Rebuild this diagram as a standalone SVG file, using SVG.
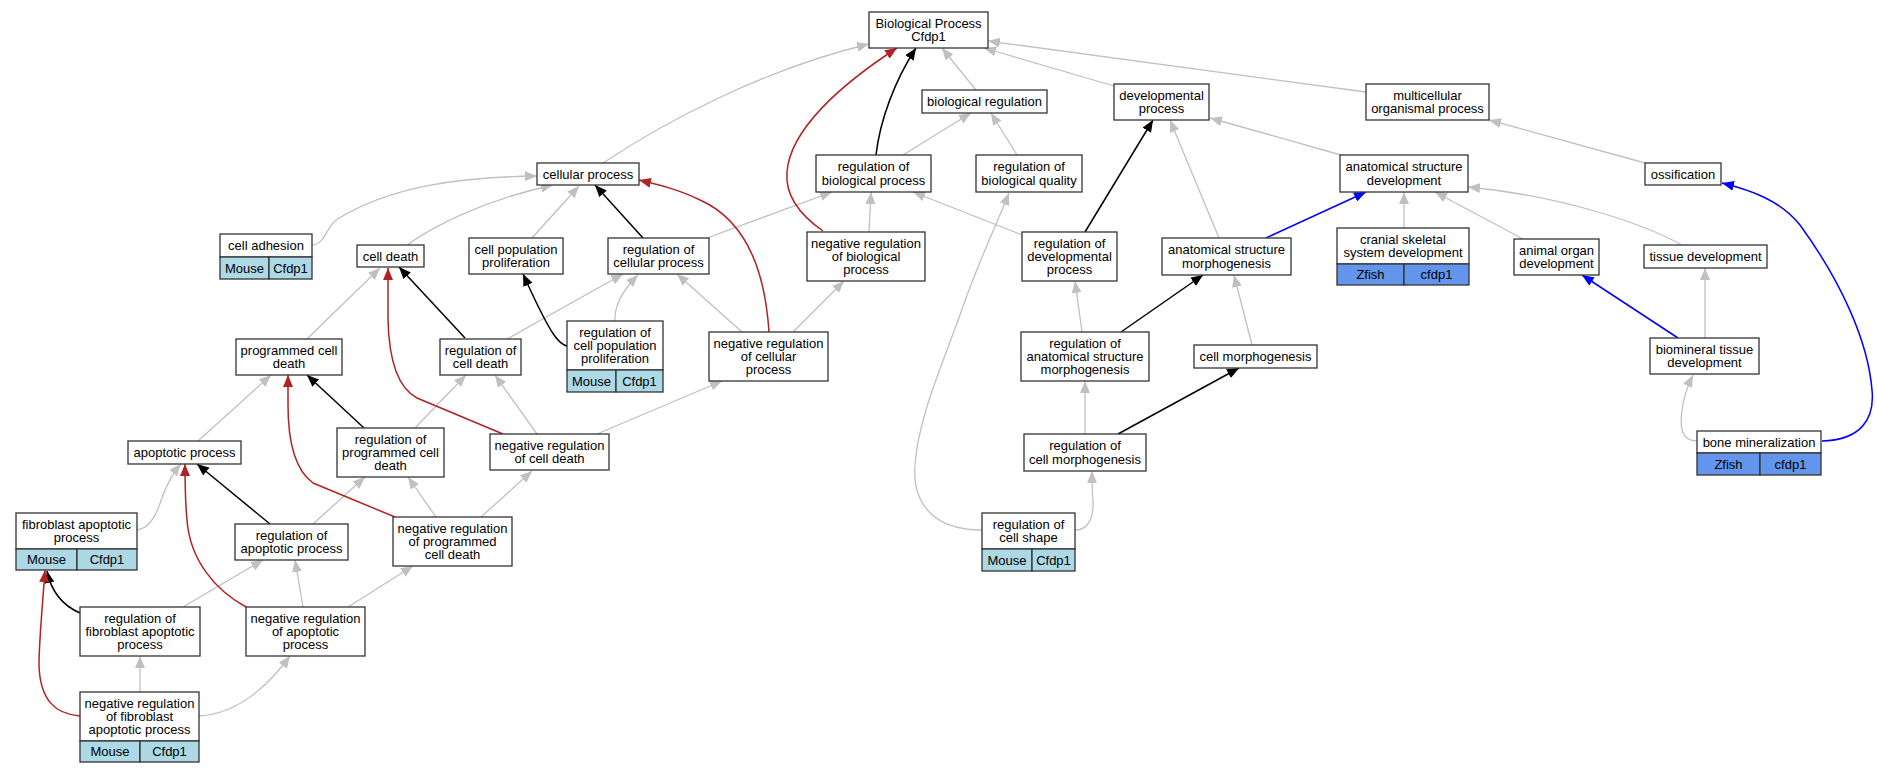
<svg xmlns="http://www.w3.org/2000/svg" width="1877" height="773" viewBox="0 0 1877 773">
<style>
.n rect{fill:#fff;stroke:#333;stroke-width:1.3}
.n rect.mouse{fill:#add8e6}
.n rect.zfish{fill:#6495ed}
text{font-family:"Liberation Sans",Arial,sans-serif;font-size:13px;text-anchor:middle;fill:#000}
#edges path{fill:none}
.g{stroke:#c0c0c0;stroke-width:1.3;marker-end:url(#ag)}
.k{stroke:#000;stroke-width:1.5;marker-end:url(#ak)}
.r{stroke:#b22222;stroke-width:1.5;marker-end:url(#ar)}
.b{stroke:#0000ff;stroke-width:1.5;marker-end:url(#ab)}
</style>
<defs>
<marker id="ag" markerUnits="userSpaceOnUse" viewBox="0 0 12 10" refX="12" refY="5" markerWidth="12" markerHeight="10" orient="auto"><path d="M0,0L12,5L0,10z" fill="#c0c0c0"/></marker>
<marker id="ak" markerUnits="userSpaceOnUse" viewBox="0 0 12 10" refX="12" refY="5" markerWidth="12" markerHeight="10" orient="auto"><path d="M0,0L12,5L0,10z" fill="#000"/></marker>
<marker id="ar" markerUnits="userSpaceOnUse" viewBox="0 0 12 10" refX="12" refY="5" markerWidth="12" markerHeight="10" orient="auto"><path d="M0,0L12,5L0,10z" fill="#b22222"/></marker>
<marker id="ab" markerUnits="userSpaceOnUse" viewBox="0 0 12 10" refX="12" refY="5" markerWidth="12" markerHeight="10" orient="auto"><path d="M0,0L12,5L0,10z" fill="#0000ff"/></marker>
</defs>
<rect width="1877" height="773" fill="#fff"/>
<g id="edges">
<path class="g" d="M603,163 C660,125 760,70 869,44"/>
<path class="g" d="M312,245 C325,244 326,228 336,220 C390,186 460,177 537,176"/>
<path class="g" d="M407,245 C435,225 485,200 553,185"/>
<path class="g" d="M532,238 L579,186"/>
<path class="g" d="M707,238 L832,192"/>
<path class="g" d="M869,232 L871,192"/>
<path class="g" d="M1022,235 L913,192"/>
<path class="g" d="M903,155 L971,113"/>
<path class="g" d="M1017,155 L991,113"/>
<path class="g" d="M976,90 L942,48"/>
<path class="g" d="M1114,86 L984,48"/>
<path class="g" d="M1366,92 L988,41"/>
<path class="g" d="M1341,155 L1210,118"/>
<path class="g" d="M1219,238 L1170,120"/>
<path class="g" d="M1404,228 L1404,192"/>
<path class="g" d="M1523,239 L1435,192"/>
<path class="g" d="M1682,245 C1640,222 1560,196 1468,187"/>
<path class="g" d="M1645,163 L1489,120"/>
<path class="g" d="M1705,338 L1705,268"/>
<path class="g" d="M1697,441 C1680,441 1680,425 1682,410 C1684,395 1688,385 1693,375"/>
<path class="g" d="M982,530 C935,530 912,505 915,465 C918,420 940,370 960,315 C975,270 995,228 1009,193"/>
<path class="g" d="M1075,530 C1090,530 1094,515 1093,500 C1092,490 1092,480 1092,471"/>
<path class="g" d="M1085,434 L1085,381"/>
<path class="g" d="M1082,332 L1075,281"/>
<path class="g" d="M1252,345 L1234,275"/>
<path class="g" d="M307,339 L380,268"/>
<path class="g" d="M198,441 L271,375"/>
<path class="g" d="M415,428 L466,375"/>
<path class="g" d="M537,434 L495,375"/>
<path class="g" d="M597,434 L722,381"/>
<path class="g" d="M507,339 L623,274"/>
<path class="g" d="M615,321 C614,305 625,288 638,275"/>
<path class="g" d="M742,332 L677,274"/>
<path class="g" d="M793,332 L844,281"/>
<path class="g" d="M313,524 L365,477"/>
<path class="g" d="M436,517 L408,477"/>
<path class="g" d="M481,517 L532,471"/>
<path class="g" d="M137,530 C152,528 158,510 163,495 C168,482 174,472 181,464"/>
<path class="g" d="M183,607 L263,560"/>
<path class="g" d="M303,607 L295,560"/>
<path class="g" d="M348,607 L413,566"/>
<path class="g" d="M140,692 L140,656"/>
<path class="g" d="M199,716 C235,714 265,690 290,656"/>
<path class="k" d="M876,155 C880,120 895,80 916,48"/>
<path class="k" d="M1085,232 L1153,120"/>
<path class="k" d="M1121,332 L1203,275"/>
<path class="k" d="M1118,434 L1239,368"/>
<path class="k" d="M643,238 L595,185"/>
<path class="k" d="M465,338 L399,267"/>
<path class="k" d="M567,346 C558,344 550,330 540,310 C533,296 528,285 523,274"/>
<path class="k" d="M364,428 L307,375"/>
<path class="k" d="M270,524 L197,464"/>
<path class="k" d="M80,613 C66,607 52,595 47,571"/>
<path class="r" d="M823,231 C800,215 785,195 787,172 C790,130 840,85 897,48"/>
<path class="r" d="M769,332 C765,270 745,220 700,200 C680,190 660,185 639,180"/>
<path class="r" d="M503,434 L417,398 C398,388 389,360 388,320 C388,300 388,285 388,268"/>
<path class="r" d="M395,517 L313,483 C295,470 288,440 288,405 L288,375"/>
<path class="r" d="M246,607 C215,590 190,560 187,520 C185,500 185,480 185,464"/>
<path class="r" d="M80,716 C55,714 40,700 39,665 C39,640 43,600 45,570"/>
<path class="b" d="M1266,238 L1366,192"/>
<path class="b" d="M1678,338 L1582,275"/>
<path class="b" d="M1822,441 C1860,440 1875,420 1872,390 C1868,340 1840,280 1800,225 C1780,200 1750,190 1722,183"/>
</g>
<g id="n1" class="n"><rect x="869" y="12" width="119" height="36"/><text x="928.5" y="27.8">Biological Process</text><text x="928.5" y="41.2">Cfdp1</text></g>
<g id="n2" class="n"><rect x="922" y="90" width="125" height="23"/><text x="984.5" y="106">biological regulation</text></g>
<g id="n3" class="n"><rect x="1114" y="84" width="95" height="36"/><text x="1161.5" y="99.8">developmental</text><text x="1161.5" y="113.2">process</text></g>
<g id="n4" class="n"><rect x="1366" y="84" width="123" height="36"/><text x="1427.5" y="99.8">multicellular</text><text x="1427.5" y="113.2">organismal process</text></g>
<g id="n5" class="n"><rect x="537" y="163" width="102" height="22"/><text x="588" y="178.5">cellular process</text></g>
<g id="n6" class="n"><rect x="816" y="155" width="115" height="37"/><text x="873.5" y="171.3">regulation of</text><text x="873.5" y="184.7">biological process</text></g>
<g id="n7" class="n"><rect x="976" y="155" width="106" height="37"/><text x="1029" y="171.3">regulation of</text><text x="1029" y="184.7">biological quality</text></g>
<g id="n8" class="n"><rect x="1340" y="155" width="128" height="37"/><text x="1404" y="171.3">anatomical structure</text><text x="1404" y="184.7">development</text></g>
<g id="n9" class="n"><rect x="1645" y="163" width="76" height="22"/><text x="1683" y="178.5">ossification</text></g>
<g id="n10" class="n"><rect x="220" y="234" width="92" height="23"/><rect class="mouse" x="220" y="257" width="49" height="22"/><rect class="mouse" x="269" y="257" width="43" height="22"/><text x="266" y="250">cell adhesion</text><text x="244.5" y="272.5">Mouse</text><text x="290.5" y="272.5">Cfdp1</text></g>
<g id="n11" class="n"><rect x="357" y="245" width="67" height="22"/><text x="390.5" y="260.5">cell death</text></g>
<g id="n12" class="n"><rect x="469" y="238" width="94" height="36"/><text x="516" y="253.8">cell population</text><text x="516" y="267.2">proliferation</text></g>
<g id="n13" class="n"><rect x="608" y="238" width="101" height="36"/><text x="658.5" y="253.8">regulation of</text><text x="658.5" y="267.2">cellular process</text></g>
<g id="n14" class="n"><rect x="807" y="232" width="118" height="49"/><text x="866" y="247.7">negative regulation</text><text x="866" y="261">of biological</text><text x="866" y="274.3">process</text></g>
<g id="n15" class="n"><rect x="1022" y="232" width="95" height="49"/><text x="1069.5" y="247.7">regulation of</text><text x="1069.5" y="261">developmental</text><text x="1069.5" y="274.3">process</text></g>
<g id="n16" class="n"><rect x="1162" y="238" width="129" height="37"/><text x="1226.5" y="254.3">anatomical structure</text><text x="1226.5" y="267.7">morphogenesis</text></g>
<g id="n17" class="n"><rect x="1337" y="228" width="132" height="36"/><rect class="zfish" x="1337" y="264" width="67" height="21"/><rect class="zfish" x="1404" y="264" width="65" height="21"/><text x="1403" y="243.8">cranial skeletal</text><text x="1403" y="257.2">system development</text><text x="1370.5" y="279">Zfish</text><text x="1436.5" y="279">cfdp1</text></g>
<g id="n18" class="n"><rect x="1514" y="239" width="85" height="36"/><text x="1556.5" y="254.8">animal organ</text><text x="1556.5" y="268.2">development</text></g>
<g id="n19" class="n"><rect x="1644" y="245" width="123" height="23"/><text x="1705.5" y="261">tissue development</text></g>
<g id="n20" class="n"><rect x="236" y="339" width="106" height="36"/><text x="289" y="354.8">programmed cell</text><text x="289" y="368.2">death</text></g>
<g id="n21" class="n"><rect x="440" y="339" width="81" height="36"/><text x="480.5" y="354.8">regulation of</text><text x="480.5" y="368.2">cell death</text></g>
<g id="n22" class="n"><rect x="567" y="321" width="96" height="49"/><rect class="mouse" x="567" y="370" width="49" height="22"/><rect class="mouse" x="616" y="370" width="47" height="22"/><text x="615" y="336.7">regulation of</text><text x="615" y="350">cell population</text><text x="615" y="363.3">proliferation</text><text x="591.5" y="385.5">Mouse</text><text x="639.5" y="385.5">Cfdp1</text></g>
<g id="n23" class="n"><rect x="709" y="332" width="119" height="49"/><text x="768.5" y="347.7">negative regulation</text><text x="768.5" y="361">of cellular</text><text x="768.5" y="374.3">process</text></g>
<g id="n24" class="n"><rect x="1021" y="332" width="128" height="49"/><text x="1085" y="347.7">regulation of</text><text x="1085" y="361">anatomical structure</text><text x="1085" y="374.3">morphogenesis</text></g>
<g id="n25" class="n"><rect x="1194" y="345" width="123" height="23"/><text x="1255.5" y="361">cell morphogenesis</text></g>
<g id="n26" class="n"><rect x="1650" y="338" width="109" height="36"/><text x="1704.5" y="353.8">biomineral tissue</text><text x="1704.5" y="367.2">development</text></g>
<g id="n27" class="n"><rect x="128" y="441" width="113" height="23"/><text x="184.5" y="457">apoptotic process</text></g>
<g id="n28" class="n"><rect x="337" y="428" width="107" height="49"/><text x="390.5" y="443.7">regulation of</text><text x="390.5" y="457">programmed cell</text><text x="390.5" y="470.3">death</text></g>
<g id="n29" class="n"><rect x="490" y="434" width="119" height="36"/><text x="549.5" y="449.8">negative regulation</text><text x="549.5" y="463.2">of cell death</text></g>
<g id="n30" class="n"><rect x="1024" y="434" width="122" height="37"/><text x="1085" y="450.3">regulation of</text><text x="1085" y="463.7">cell morphogenesis</text></g>
<g id="n31" class="n"><rect x="1697" y="431" width="124" height="22"/><rect class="zfish" x="1697" y="453" width="63" height="22"/><rect class="zfish" x="1760" y="453" width="61" height="22"/><text x="1759" y="446.5">bone mineralization</text><text x="1728.5" y="468.5">Zfish</text><text x="1790.5" y="468.5">cfdp1</text></g>
<g id="n32" class="n"><rect x="16" y="513" width="121" height="36"/><rect class="mouse" x="16" y="549" width="61" height="21"/><rect class="mouse" x="77" y="549" width="60" height="21"/><text x="76.5" y="528.8">fibroblast apoptotic</text><text x="76.5" y="542.2">process</text><text x="46.5" y="564">Mouse</text><text x="107" y="564">Cfdp1</text></g>
<g id="n33" class="n"><rect x="235" y="524" width="113" height="36"/><text x="291.5" y="539.8">regulation of</text><text x="291.5" y="553.2">apoptotic process</text></g>
<g id="n34" class="n"><rect x="393" y="517" width="119" height="49"/><text x="452.5" y="532.7">negative regulation</text><text x="452.5" y="546">of programmed</text><text x="452.5" y="559.3">cell death</text></g>
<g id="n35" class="n"><rect x="982" y="513" width="93" height="36"/><rect class="mouse" x="982" y="549" width="50" height="22"/><rect class="mouse" x="1032" y="549" width="43" height="22"/><text x="1028.5" y="528.8">regulation of</text><text x="1028.5" y="542.2">cell shape</text><text x="1007" y="564.5">Mouse</text><text x="1053.5" y="564.5">Cfdp1</text></g>
<g id="n36" class="n"><rect x="80" y="607" width="120" height="49"/><text x="140" y="622.7">regulation of</text><text x="140" y="636">fibroblast apoptotic</text><text x="140" y="649.3">process</text></g>
<g id="n37" class="n"><rect x="246" y="607" width="119" height="49"/><text x="305.5" y="622.7">negative regulation</text><text x="305.5" y="636">of apoptotic</text><text x="305.5" y="649.3">process</text></g>
<g id="n38" class="n"><rect x="80" y="692" width="119" height="49"/><rect class="mouse" x="80" y="741" width="60" height="21"/><rect class="mouse" x="140" y="741" width="59" height="21"/><text x="139.5" y="707.7">negative regulation</text><text x="139.5" y="721">of fibroblast</text><text x="139.5" y="734.3">apoptotic process</text><text x="110" y="756">Mouse</text><text x="169.5" y="756">Cfdp1</text></g>
</svg>
